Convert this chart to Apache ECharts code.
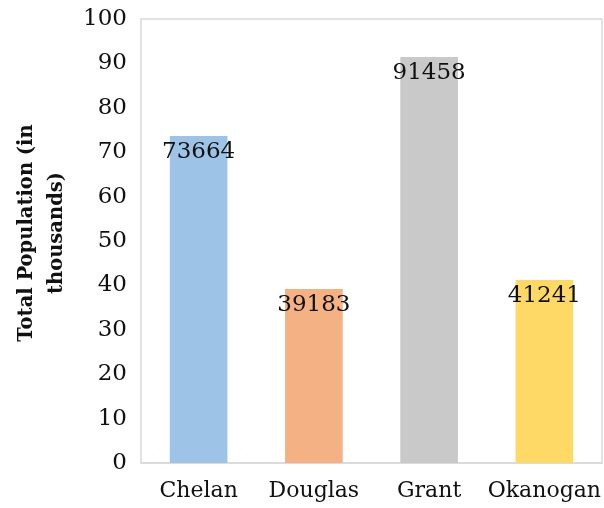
<!DOCTYPE html>
<html>
<head>
<meta charset="utf-8">
<script src="https://cdn.jsdelivr.net/npm/echarts@6/dist/echarts.min.js"></script>
<style>
html,body{margin:0;padding:0;background:#fff;}
#chart{width:604px;height:508px;}
</style>
</head>
<body>
<div id="chart"></div>
<script>
var categories = ['Chelan', 'Douglas', 'Grant', 'Okanogan'];
var population = [73664, 39183, 91458, 41241];
var barColors = ['#9DC3E6', '#F4B183', '#C9C9C9', '#FFD966'];
var yTicks = [0, 10, 20, 30, 40, 50, 60, 70, 80, 90, 100];
var yTitle = 'Total Population (in\nthousands)';

var font = '"DejaVu Serif", serif';
var chart = echarts.init(document.getElementById('chart'));
chart.setOption({
  animation: false,
  backgroundColor: '#fff',
  grid: {left: 141, right: 2, top: 19, bottom: 45, show: true, borderColor: '#d9d9d9', borderWidth: 1.5},
  xAxis: {
    type: 'category',
    data: categories,
    axisLine: {show: true, lineStyle: {color: '#d9d9d9', width: 1.5}},
    axisTick: {show: false},
    axisLabel: {interval: 0, fontFamily: font, fontSize: 22, color: '#111', margin: 17}
  },
  yAxis: {
    type: 'value',
    min: yTicks[0],
    max: yTicks[yTicks.length - 1],
    interval: 10,
    splitLine: {show: false},
    axisLine: {show: false},
    axisTick: {show: false},
    axisLabel: {fontFamily: font, fontSize: 23, color: '#111', margin: 14}
  },
  graphic: [{
    type: 'text',
    x: 42, y: 233,
    rotation: Math.PI / 2,
    style: {
      text: yTitle,
      fontFamily: font,
      fontSize: 19.5,
      fontWeight: 'bold',
      lineHeight: 30,
      fill: '#111',
      align: 'center',
      verticalAlign: 'middle'
    }
  }],
  series: [{
    type: 'bar',
    barWidth: '50%',
    data: population.map(function (v, i) {
      return {value: v / 1000, raw: v, itemStyle: {color: barColors[i]}};
    }),
    label: {
      show: true,
      position: 'insideTop',
      distance: 5,
      fontFamily: font,
      fontSize: 23,
      color: '#111',
      formatter: function (p) { return String(p.data.raw); }
    }
  }]
});
</script>
</body>
</html>
